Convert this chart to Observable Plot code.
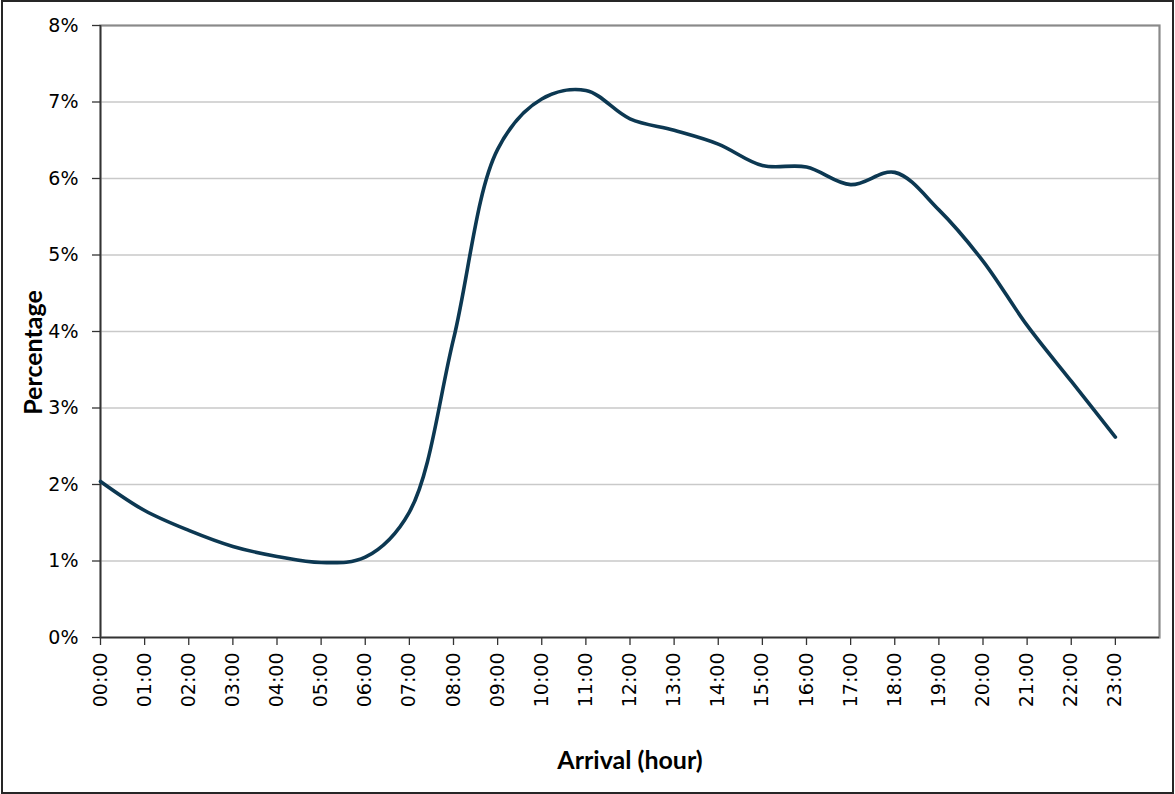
<!DOCTYPE html>
<html>
<head>
<meta charset="utf-8">
<script src="https://cdn.jsdelivr.net/npm/d3@7"></script>
<script src="https://cdn.jsdelivr.net/npm/@observablehq/plot@0.6"></script>
<style>
  body { margin: 0; background: #fff; }
  #chart { position: relative; width: 1175px; height: 794px; }
  #chart .outline {
    position: absolute; left: 1px; top: 0; width: 1173px; height: 794px;
    border: 2px solid #262626; box-sizing: border-box; pointer-events: none;
  }
</style>
</head>
<body>
<div id="chart"><div class="outline"></div></div>
<script>
// Hour-of-day categories shown on the x axis
const hourLabels = ["00:00","01:00","02:00","03:00","04:00","05:00","06:00","07:00",
  "08:00","09:00","10:00","11:00","12:00","13:00","14:00","15:00","16:00","17:00",
  "18:00","19:00","20:00","21:00","22:00","23:00"];

// Share of arrivals in each hour (percent)
const arrivalShare = [2.04, 1.66, 1.40, 1.19, 1.06, 0.98, 1.05, 1.64,
  3.90, 6.38, 7.04, 7.15, 6.78, 6.63, 6.45, 6.17, 6.15, 5.92,
  6.08, 5.59, 4.92, 4.08, 3.35, 2.62];

// Percentage ticks on the y axis
const percentTicks = [0, 1, 2, 3, 4, 5, 6, 7, 8];

const rows = hourLabels.map((label, i) => ({hour: i, label, share: arrivalShare[i]}));
const hourTicks = hourLabels.map((_, i) => i);

const chart = Plot.plot({
  width: 1175,
  height: 794,
  marginLeft: 100,
  marginRight: 16,
  marginTop: 25,
  marginBottom: 157,
  style: {fontFamily: "DejaVu Sans", fontSize: "19px", color: "#000", background: "white", overflow: "visible"},
  x: {domain: [0, 24]},
  y: {domain: [0, 8]},
  marks: [
    Plot.gridY(percentTicks.filter(v => v > 0 && v < 8), {stroke: "#c9c9c9", strokeOpacity: 1, strokeWidth: 1.3}),
    Plot.frame({stroke: "#8a8a8a", strokeWidth: 2.2}),
    Plot.ruleX([0], {stroke: "#333", strokeWidth: 1.6}),
    Plot.ruleY([0], {stroke: "#333", strokeWidth: 1.6}),
    Plot.axisX(hourTicks, {
      tickFormat: i => hourLabels[i], tickRotate: -90, tickSize: 8, tickPadding: 7,
      fontSize: 19, stroke: "#333", strokeWidth: 1.3, label: null
    }),
    Plot.axisY(percentTicks, {
      tickFormat: d => d + "%", tickSize: 8, tickPadding: 14,
      fontSize: 19, stroke: "#333", strokeWidth: 1.3, label: null
    }),
    Plot.line(rows, {x: "hour", y: "share", curve: "catmull-rom", stroke: "#0c3852", strokeWidth: 3.6}),
    Plot.text(["Arrival (hour)"], {
      frameAnchor: "bottom", dy: 123, lineAnchor: "middle", textAnchor: "middle",
      fontFamily: "Lato", fontWeight: "bold", fontSize: 25, fill: "#000"
    }),
    Plot.text(["Percentage"], {
      frameAnchor: "left", rotate: -90, dx: -67, dy: 21, lineAnchor: "middle", textAnchor: "middle",
      fontFamily: "Lato", fontWeight: "bold", fontSize: 25, fill: "#000"
    })
  ]
});

document.getElementById("chart").prepend(chart);
</script>
</body>
</html>
